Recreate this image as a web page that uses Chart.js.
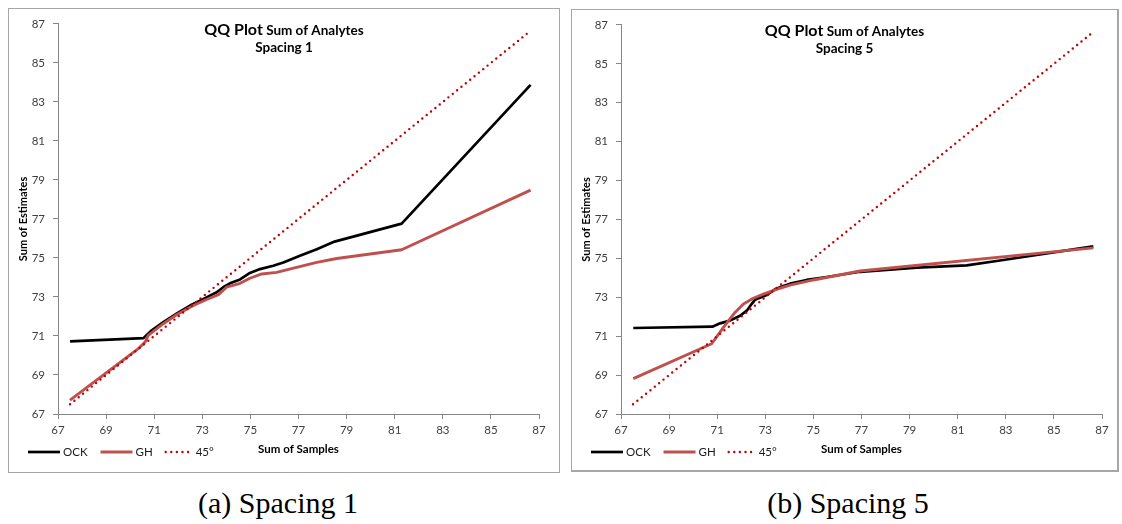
<!DOCTYPE html>
<html>
<head>
<meta charset="utf-8">
<script src="https://cdn.jsdelivr.net/npm/chart.js@4/dist/chart.umd.min.js"></script>
<style>
  html, body { margin: 0; padding: 0; background: #fff; width: 1122px; height: 524px; overflow: hidden; }
  .panel { position: absolute; box-sizing: border-box; border: 1px solid #a6a6a6; background: #fff; }
  .panel canvas { display: block; }
  .caption { position: absolute; top: 486px; width: 300px; text-align: center;
             font-family: "Liberation Serif", "DejaVu Serif", serif; font-size: 30px; line-height: 34px; color: #000; }
</style>
</head>
<body>
<div class="panel" style="left:8px;top:8px;width:552px;height:465px"><canvas id="c1" width="550" height="463"></canvas></div>
<div class="panel" style="left:571px;top:9px;width:548px;height:463px;border-right-width:2px;border-bottom-width:2px"><canvas id="c2" width="545" height="460"></canvas></div>
<div class="caption" style="left:128px">(a) Spacing 1</div>
<div class="caption" style="left:698px">(b) Spacing 5</div>

<script>
// Shared axis ticks (both axes, both panels)
const axisTicks = [67, 69, 71, 73, 75, 77, 79, 81, 83, 85, 87];

// Series labels
const seriesNames = ['OCK', 'GH', '45°'];

// Spacing 1: sample quantiles (x) vs estimate quantiles (y)
const ockX1 = [67.5, 70.55, 70.9, 71.38, 71.93, 72.49, 72.97, 73.6, 73.87, 74.15, 74.57, 74.98, 75.4, 75.95, 76.37, 77.06, 77.76, 78.5, 81.29, 86.65];
const ockY1 = [70.72, 70.89, 71.29, 71.71, 72.14, 72.56, 72.85, 73.24, 73.5, 73.7, 73.9, 74.23, 74.43, 74.6, 74.77, 75.11, 75.45, 75.84, 76.76, 83.87];
const ghX1  = [67.5, 70.34, 70.62, 70.75, 71.38, 71.93, 72.63, 73.18, 73.67, 74.01, 74.57, 74.98, 75.47, 76.09, 76.92, 77.76, 78.59, 81.29, 86.65];
const ghY1  = [67.71, 70.35, 70.69, 71.03, 71.63, 72.09, 72.56, 72.87, 73.12, 73.5, 73.7, 73.96, 74.18, 74.26, 74.52, 74.77, 74.97, 75.42, 78.48];

// Spacing 5
const ockX5 = [67.51, 70.8, 71.12, 71.53, 71.95, 72.23, 72.43, 72.57, 73.06, 73.4, 73.75, 74.03, 74.72, 75.55, 76.94, 79.3, 81.37, 82.76, 84.84, 86.64];
const ockY5 = [71.42, 71.49, 71.66, 71.8, 72.05, 72.31, 72.65, 72.87, 73.12, 73.41, 73.58, 73.7, 73.89, 74.04, 74.31, 74.52, 74.64, 74.89, 75.28, 75.62];
const ghX5  = [67.51, 70.77, 71.26, 71.74, 72.09, 72.5, 72.92, 73.47, 74.03, 75.0, 76.94, 86.64];
const ghY5  = [68.82, 70.61, 71.45, 72.22, 72.65, 72.95, 73.16, 73.41, 73.62, 73.89, 74.35, 75.54];

// 45° reference line
const refX1 = [67.5, 86.6];
const refY1 = [67.5, 86.6];
const refX5 = [67.5, 86.6];
const refY5 = [67.5, 86.6];

const pts = (xs, ys) => xs.map((x, i) => ({ x, y: ys[i] }));

Chart.defaults.font.family = 'Lato, "Open Sans", sans-serif';

// Two-line heading drawn over the plot area, centred on the canvas
const headingPlugin = {
  id: 'qqHeading',
  afterDraw(chart, args, opts) {
    const ctx = chart.ctx;
    const cx = chart.width / 2;
    ctx.save();
    ctx.fillStyle = '#000';
    ctx.textBaseline = 'middle';
    const big = 'bold 16px Lato', small = 'bold 13.5px Lato';
    ctx.font = big;  const w1 = ctx.measureText(opts.main).width;
    ctx.font = small; const w2 = ctx.measureText(' ' + opts.rest).width;
    const x0 = cx - (w1 + w2) / 2;
    ctx.textAlign = 'left';
    ctx.font = big;  ctx.fillText(opts.main, x0, opts.y1);
    ctx.font = small; ctx.fillText(' ' + opts.rest, x0 + w1, opts.y1 + 1);
    ctx.textAlign = 'center';
    ctx.fillText(opts.sub, cx, opts.y2);
    ctx.restore();
  }
};

// Inline legend in the row of the x-axis title
const inlineLegend = {
  id: 'inlineLegend',
  afterDraw(chart, args, opts) {
    const ctx = chart.ctx;
    const area = chart.chartArea;
    let x = area.left + opts.dx;
    const y = area.bottom + opts.dy;
    ctx.save();
    ctx.font = '11.5px Lato';
    ctx.textBaseline = 'middle';
    ctx.textAlign = 'left';
    chart.data.datasets.forEach((ds, i) => {
      const len = opts.lengths[i];
      ctx.beginPath();
      ctx.strokeStyle = ds.borderColor;
      ctx.lineWidth = ds.borderWidth;
      ctx.lineCap = ds.borderCapStyle || 'butt';
      ctx.setLineDash(ds.borderDash || []);
      ctx.moveTo(x, y);
      ctx.lineTo(x + len, y);
      ctx.stroke();
      ctx.setLineDash([]);
      x += len + 3;
      ctx.fillStyle = '#1a1a1a';
      ctx.fillText(ds.label, x, y);
      x += ctx.measureText(ds.label).width + 13;
    });
    ctx.restore();
  }
};

function makeChart(id, ock, gh, ref, sub, geom) {
  const canvas = document.getElementById(id);
  const W = canvas.width, H = canvas.height;
  const axisColor = '#868686';
  const tickFont = { size: 11.5 };
  return new Chart(canvas, {
    type: 'scatter',
    data: {
      datasets: [
        { label: seriesNames[0], data: ock, showLine: true, borderColor: '#000000', backgroundColor: '#000000',
          borderWidth: 2.7, pointRadius: 0, tension: 0, borderJoinStyle: 'round', order: 3 },
        { label: seriesNames[1], data: gh, showLine: true, borderColor: '#c0504d', backgroundColor: '#c0504d',
          borderWidth: 2.9, pointRadius: 0, tension: 0, borderJoinStyle: 'round', order: 2 },
        { label: seriesNames[2], data: ref, showLine: true, borderColor: '#c00000', backgroundColor: '#c00000',
          borderWidth: 2.4, borderDash: [0, 5.6], borderCapStyle: 'round', pointRadius: 0, tension: 0, order: 1 }
      ]
    },
    options: {
      responsive: false,
      animation: false,
      events: [],
      layout: { padding: { left: 0, top: geom.top, right: W - geom.right, bottom: 0 } },
      plugins: {
        legend: { display: false },
        tooltip: { enabled: false },
        qqHeading: { main: 'QQ Plot', rest: 'Sum of Analytes', sub: sub, y1: 20.5, y2: 39 },
        inlineLegend: { dx: -30, dy: 38, lengths: [32, 32, 27] }
      },
      scales: {
        x: {
          type: 'linear', min: 67, max: 87,
          afterBuildTicks: s => { s.ticks = axisTicks.map(v => ({ value: v })); },
          afterFit: s => { s.height = H - geom.bottom; },
          grid: { display: true, drawOnChartArea: false, drawTicks: true, tickLength: 5, color: axisColor },
          border: { display: true, color: axisColor, width: 1 },
          ticks: { color: '#404040', font: tickFont, padding: 4, maxRotation: 0, autoSkip: false },
          title: { display: true, text: 'Sum of Samples', color: '#000', font: { size: 11.5, weight: 'bold' },
                   padding: { top: 0, bottom: H - geom.bottom - 35 - 6.9 } }
        },
        y: {
          type: 'linear', min: 67, max: 87,
          afterBuildTicks: s => { s.ticks = axisTicks.map(v => ({ value: v })); },
          afterFit: s => { s.width = geom.left; },
          grid: { display: true, drawOnChartArea: false, drawTicks: true, tickLength: 5, color: axisColor },
          border: { display: true, color: axisColor, width: 1 },
          ticks: { color: '#404040', font: tickFont, padding: 8, autoSkip: false },
          title: { display: true, text: 'Sum of Estimates', color: '#000', font: { size: 11, weight: 'bold' },
                   padding: { top: 7.5, bottom: 0 } }
        }
      }
    },
    plugins: [headingPlugin, inlineLegend]
  });
}

makeChart('c1', pts(ockX1, ockY1), pts(ghX1, ghY1), pts(refX1, refY1), 'Spacing 1',
          { left: 49, right: 530, top: 13, bottom: 405 });
makeChart('c2', pts(ockX5, ockY5), pts(ghX5, ghY5), pts(refX5, refY5), 'Spacing 5',
          { left: 49, right: 530, top: 13, bottom: 404 });
</script>
</body>
</html>
